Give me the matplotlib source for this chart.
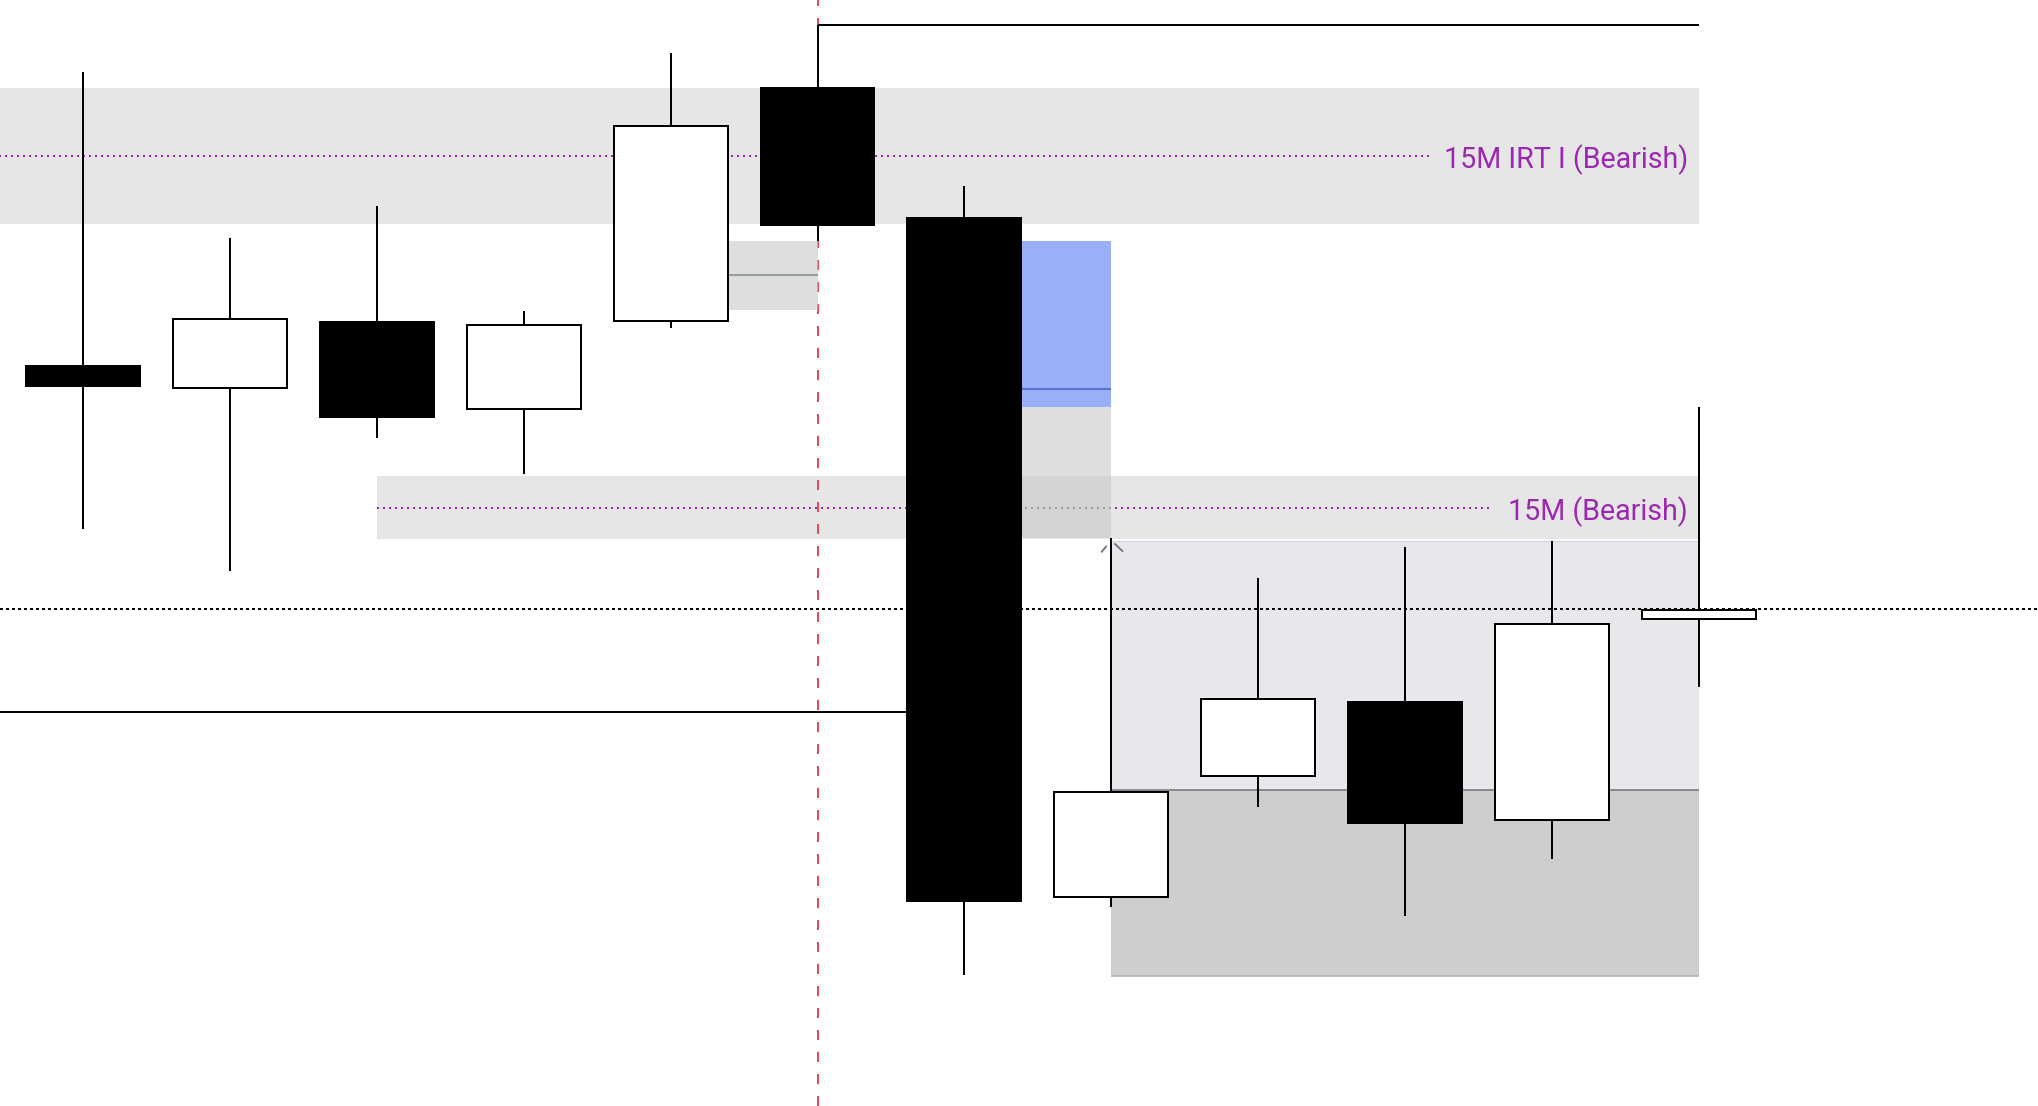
import numpy as np
import matplotlib
matplotlib.use("Agg")
import matplotlib.pyplot as plt
from matplotlib.patches import Rectangle

#%% data (prices)
idx = np.arange(12)
opens  = [740, 718, 784, 697, 785, 1018, 888, 209, 330, 404, 286, 487]
highs  = [1034, 868, 900, 795, 1053, 1081, 920, 568, 528, 559, 565, 699]
lows   = [577, 535, 668, 632, 778, 865, 131, 199, 299, 190, 247, 419]
closes = [720, 787, 689, 781, 980, 881, 205, 314, 407, 283, 482, 496]

# zones: (x start, x end, price low, price high)
zone_irt = (-1.0, 11, 882, 1018)
zone_15m = (2, 11, 567, 630)
fvg_upper = (4.39, 5.0, 796, 865)
fvg_upper_mid = 831
blue_box = (6.395, 7.0, 699, 865)
blue_box_line = 717
fvg_lower = (6.395, 7.0, 568, 699)
range_light = (7, 11, 316, 565)
range_dark = (7, 11, 130, 316)

irt_level = 950
m15_level = 598.5
top_level = 1081
mid_level = 394
dotted_level = 497.5
vline_x = 5

labels = ["15M IRT I (Bearish)", "15M (Bearish)"]
purple = '#9c27b0'
lw = 1.44

#%% figure
fig = plt.figure(figsize=(20.38, 11.06), dpi=100)
ax = fig.add_axes([0, 0, 1, 1])
ax.set_xlim(-0.565, 13.308)
ax.set_ylim(0, 1106)
ax.axis('off')

def box(b, **kw):
    ax.add_patch(Rectangle((b[0], b[2]), b[1] - b[0], b[3] - b[2], **kw))

# background zones
box(zone_irt, facecolor='#e6e6e6', edgecolor='none', zorder=1)
box(zone_15m, facecolor='#e6e6e6', edgecolor='none', zorder=1)
box(range_light, facecolor='#e7e8ec', edgecolor='none', zorder=1)
box(range_dark, facecolor='#cecece', edgecolor='none', zorder=1)
ax.hlines(range_light[3], range_light[0], range_light[1], color='#d6d6de', lw=1.0, zorder=1.5)
ax.hlines(range_dark[3], range_dark[0], range_dark[1], color='#7a7a84', lw=1.2, zorder=1.5)
ax.hlines(range_dark[2], range_dark[0], range_dark[1], color='#b4b4b4', lw=1.2, zorder=1.5)

# purple level lines + labels
ax.plot([-1, 9.16], [irt_level, irt_level], color=purple, lw=lw, ls=(0, (1, 2)), zorder=1.8)
ax.plot([2, 9.6], [m15_level, m15_level], color=purple, lw=lw, ls=(0, (1, 2)), zorder=1.8)
ax.text(10.925, irt_level - 4, labels[0], color=purple, fontsize=20.6, family='Roboto',
        ha='right', va='center', zorder=8)
ax.text(10.925, m15_level - 4, labels[1], color=purple, fontsize=20.6, family='Roboto',
        ha='right', va='center', zorder=8)

# red vertical
ax.axvline(vline_x, color='#e84a5a', lw=lw, ls=(0, (5, 6)), zorder=2)

# fvg / blue boxes
box(fvg_upper, facecolor=(197/255, 203/255, 197/255), alpha=0.6, edgecolor='none', zorder=3)
ax.hlines(fvg_upper_mid, fvg_upper[0], fvg_upper[1], color='#9a9e9a', lw=1.5, zorder=3.1)
box(fvg_lower, facecolor=(197/255, 203/255, 197/255), alpha=0.6, edgecolor='none', zorder=3)
box(blue_box, facecolor='#99b0f8', edgecolor='none', zorder=3)
ax.hlines(blue_box_line, blue_box[0], blue_box[1], color='#5a72c8', lw=1.5, zorder=3.1)

# black levels
ax.hlines(top_level, 5, 11, color='black', lw=lw, zorder=4)
ax.hlines(mid_level, -1, 5.605, color='black', lw=lw, zorder=4)

# small caret marks beside candle 7 high
ax.plot([6.935, 6.964], [554.3, 559.3], color='#70707a', lw=1.3, zorder=4)
ax.plot([7.025, 7.075], [562, 555], color='#70707a', lw=1.3, zorder=4)

# candles
ax.vlines(idx, lows, highs, color='black', lw=lw, zorder=5)
for i in idx:
    o, c = opens[i], closes[i]
    fc = 'white' if c > o else 'black'
    ax.bar(i, abs(c - o), bottom=min(o, c), width=0.775, color=fc,
           edgecolor='black', linewidth=lw, zorder=6)

# black dotted
ax.axhline(dotted_level, color='black', lw=lw, ls=(0, (1.5, 1.5)), zorder=7)

fig.savefig('out.png', dpi=100)
